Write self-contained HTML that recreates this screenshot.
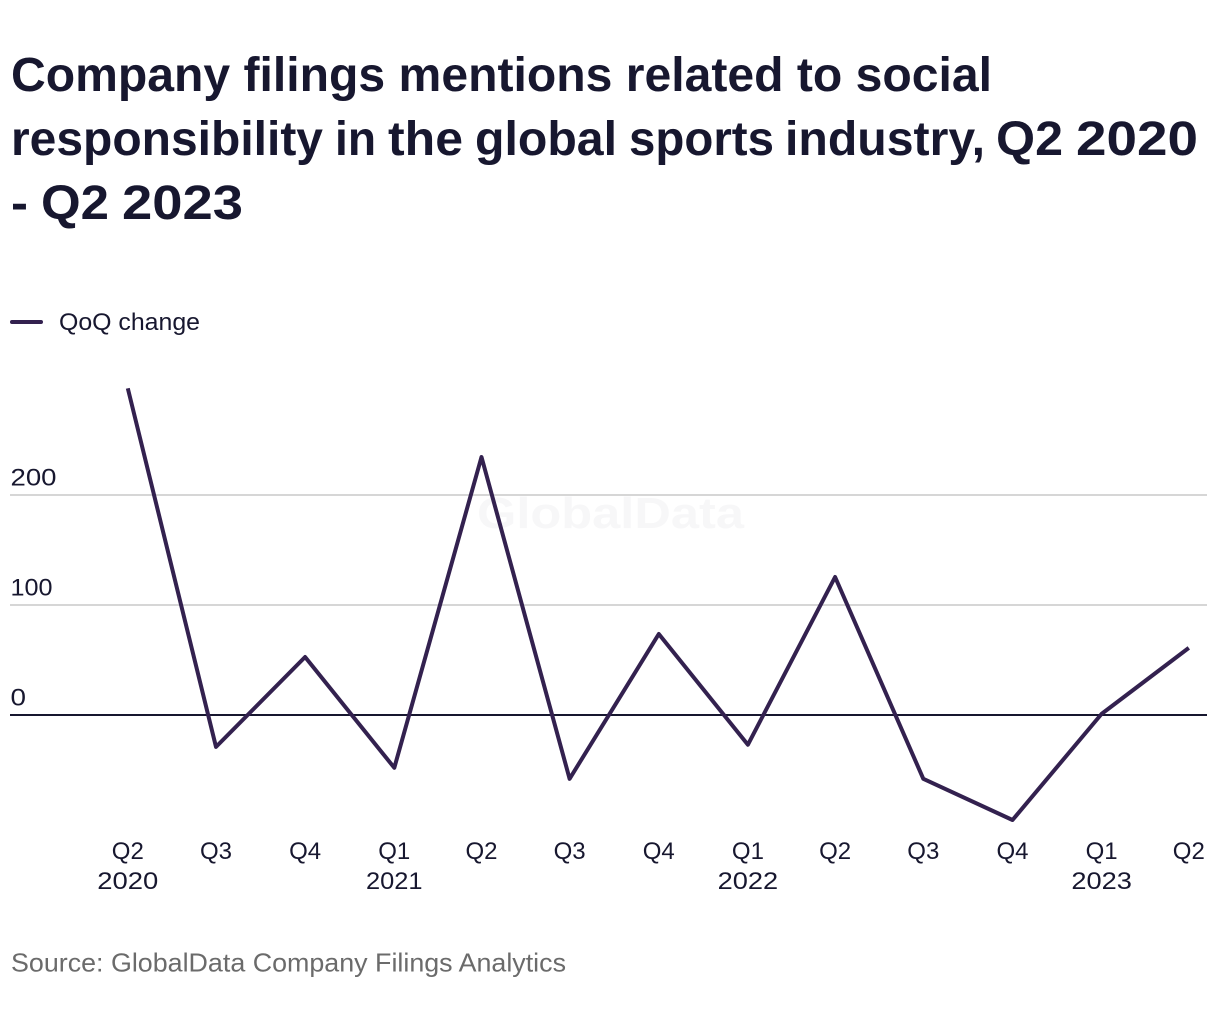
<!DOCTYPE html>
<html lang="en">
<head>
<meta charset="utf-8">
<title>Company filings mentions related to social responsibility</title>
<style>
html,body{margin:0;padding:0;background:#fff;width:1220px;height:1020px;overflow:hidden}
svg{display:block}
text{font-family:"Liberation Sans",sans-serif}
</style>
</head>
<body>
<svg id="chart" width="1220" height="1020" viewBox="0 0 1220 1020" xmlns="http://www.w3.org/2000/svg">
  <rect width="1220" height="1020" fill="#fff"/>
  <g fill="#17172f" font-size="48" font-weight="700">
    <text x="11" y="91" textLength="981" lengthAdjust="spacingAndGlyphs">Company filings mentions related to social</text>
    <text y="155"><tspan x="11" textLength="312" lengthAdjust="spacingAndGlyphs">responsibility</tspan> <tspan x="335" textLength="41" lengthAdjust="spacingAndGlyphs">in</tspan> <tspan x="388" textLength="75" lengthAdjust="spacingAndGlyphs">the</tspan> <tspan x="475" textLength="142" lengthAdjust="spacingAndGlyphs">global</tspan> <tspan x="629" textLength="145" lengthAdjust="spacingAndGlyphs">sports</tspan> <tspan x="785" textLength="200" lengthAdjust="spacingAndGlyphs">industry,</tspan> <tspan x="996" textLength="67" lengthAdjust="spacingAndGlyphs">Q2</tspan> <tspan x="1076" textLength="122" lengthAdjust="spacingAndGlyphs">2020</tspan></text>
    <text y="219"><tspan x="11" textLength="17" lengthAdjust="spacingAndGlyphs">-</tspan> <tspan x="41" textLength="68" lengthAdjust="spacingAndGlyphs">Q2</tspan> <tspan x="122" textLength="121" lengthAdjust="spacingAndGlyphs">2023</tspan></text>
  </g>
  <g>
    <line x1="12" y1="322" x2="41" y2="322" stroke="#33214f" stroke-width="4" stroke-linecap="round"/>
    <text x="59" y="330" font-size="24" fill="#17172f" textLength="141" lengthAdjust="spacingAndGlyphs">QoQ change</text>
  </g>
  <text x="477" y="528" font-size="44" font-weight="700" fill="#f7f7f8" textLength="267" lengthAdjust="spacingAndGlyphs">GlobalData</text>
  <g id="grid"></g>
  <g id="xaxis"></g>
  <path id="series" fill="none" stroke="#33214f" stroke-width="4" stroke-linejoin="round" stroke-linecap="butt"/>
  <text x="11" y="971.5" font-size="26" fill="#6b6b6b" textLength="555" lengthAdjust="spacingAndGlyphs">Source: GlobalData Company Filings Analytics</text>
</svg>
<script>
const quarterStarts = ['2020-04-01','2020-07-01','2020-10-01','2021-01-01','2021-04-01','2021-07-01','2021-10-01','2022-01-01','2022-04-01','2022-07-01','2022-10-01','2023-01-01','2023-04-01'];
const quarters = ['Q2','Q3','Q4','Q1','Q2','Q3','Q4','Q1','Q2','Q3','Q4','Q1','Q2'];
const years = ['2020','','','2021','','','','2022','','','','2023',''];
const qoqChange = [297,-29,52.7,-48,234.5,-58,73.6,-27,125.5,-58,-95.5,1,61];
const yTicks = [0,100,200];

const NS = 'http://www.w3.org/2000/svg';
const t0 = Date.parse(quarterStarts[0]);
const t1 = Date.parse(quarterStarts[quarterStarts.length - 1]);
const xScale = i => 127.8 + (Date.parse(quarterStarts[i]) - t0) / (t1 - t0) * (1188.8 - 127.8);
const yScale = v => 715 - v * 1.1;
const digitsWidth = s => [...s].reduce((w, c) => w + (c === '1' ? 11 : c === '0' ? 15.5 : 15), 0);

function make(tag, attrs, parent, txt) {
  const el = document.createElementNS(NS, tag);
  for (const k in attrs) el.setAttribute(k, attrs[k]);
  if (txt !== undefined) el.textContent = txt;
  parent.appendChild(el);
  return el;
}

const grid = document.getElementById('grid');
yTicks.forEach(t => {
  const ln = make('line', {x1: 10, x2: 1207, y1: yScale(t), y2: yScale(t), stroke: t === 0 ? '#17172f' : '#d6d6d6', 'stroke-width': 2}, grid);
  
  
  const s = String(t);
  const lb = make('text', {x: 10.5, y: yScale(t) - 9.5, 'font-size': 24, fill: '#17172f', textLength: digitsWidth(s), lengthAdjust: 'spacingAndGlyphs'}, grid, s);
  
  
});

const xaxis = document.getElementById('xaxis');
quarters.forEach((q, i) => {
  const a = make('text', {x: xScale(i), y: 859, 'font-size': 24, fill: '#17172f', 'text-anchor': 'middle'}, xaxis, q);
  
  
  if (years[i]) {
    const b = make('text', {x: xScale(i), y: 889, 'font-size': 24, fill: '#17172f', 'text-anchor': 'middle', textLength: digitsWidth(years[i]), lengthAdjust: 'spacingAndGlyphs'}, xaxis, years[i]);
    
    
  }
});

document.getElementById('series').setAttribute('d',
  qoqChange.map((v, i) => (i ? 'L' : 'M') + xScale(i).toFixed(1) + ' ' + yScale(v).toFixed(1)).join(' '));
</script>
</body>
</html>
